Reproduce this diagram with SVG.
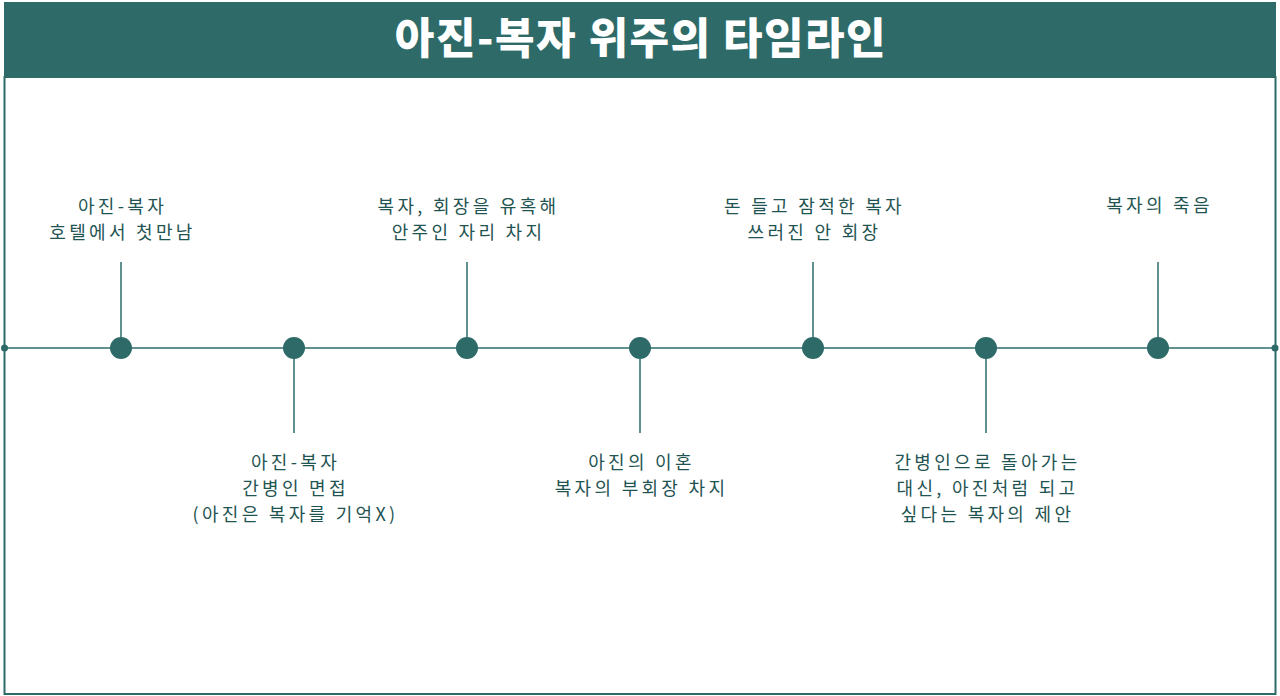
<svg xmlns="http://www.w3.org/2000/svg" width="1280" height="696" viewBox="0 0 1280 696">
<style>
.lbl{font-family:"Noto Sans CJK KR","Noto Sans",sans-serif;font-size:18px;letter-spacing:3.3px;fill:#1f5452;text-anchor:middle}
.title{font-family:"Noto Sans CJK KR","Noto Sans",sans-serif;font-size:43px;font-weight:900;letter-spacing:1.5px;fill:#ffffff;text-anchor:middle}
.stem{stroke:#2e6b68;stroke-width:1.5}
.dot{fill:#2e6b68}
</style>
<rect x="0" y="0" width="1280" height="696" fill="#ffffff"/>
<rect x="4" y="2" width="1272" height="75" fill="#2e6b68"/>
<rect x="4.5" y="77" width="1271" height="617" fill="none" stroke="#2e6b68" stroke-width="2"/>
<text class="title" x="641" y="54">아진-복자 위주의 타임라인</text>
<g id="connectors">
<line class="stem" x1="4" y1="348" x2="1275" y2="348"/>
<line class="stem" x1="121" y1="262" x2="121" y2="348"/>
<line class="stem" x1="294" y1="348" x2="294" y2="433"/>
<line class="stem" x1="467" y1="262" x2="467" y2="348"/>
<line class="stem" x1="640" y1="348" x2="640" y2="433"/>
<line class="stem" x1="813" y1="262" x2="813" y2="348"/>
<line class="stem" x1="986" y1="348" x2="986" y2="433"/>
<line class="stem" x1="1158" y1="262" x2="1158" y2="348"/>
<circle class="dot" cx="4.5" cy="348" r="3.5"/>
<circle class="dot" cx="1275" cy="348" r="3.5"/>
</g>
<g id="n1"><circle class="dot" cx="121" cy="348" r="11"/><text class="lbl" x="122.5" y="213">아진-복자</text><text class="lbl" x="122.5" y="239">호텔에서 첫만남</text></g>
<g id="n2"><circle class="dot" cx="294" cy="348" r="11"/><text class="lbl" x="295.5" y="469">아진-복자</text><text class="lbl" x="295.5" y="495">간병인 면접</text><text class="lbl" x="295.5" y="521">(아진은 복자를 기억X)</text></g>
<g id="n3"><circle class="dot" cx="467" cy="348" r="11"/><text class="lbl" x="468.5" y="213">복자, 회장을 유혹해</text><text class="lbl" x="468.5" y="239">안주인 자리 차지</text></g>
<g id="n4"><circle class="dot" cx="640" cy="348" r="11"/><text class="lbl" x="641.5" y="469">아진의 이혼</text><text class="lbl" x="641.5" y="495">복자의 부회장 차지</text></g>
<g id="n5"><circle class="dot" cx="813" cy="348" r="11"/><text class="lbl" x="814.5" y="213">돈 들고 잠적한 복자</text><text class="lbl" x="814.5" y="239">쓰러진 안 회장</text></g>
<g id="n6"><circle class="dot" cx="986" cy="348" r="11"/><text class="lbl" x="987.5" y="469">간병인으로 돌아가는</text><text class="lbl" x="987.5" y="495">대신, 아진처럼 되고</text><text class="lbl" x="987.5" y="521">싶다는 복자의 제안</text></g>
<g id="n7"><circle class="dot" cx="1158" cy="348" r="11"/><text class="lbl" x="1159.5" y="212">복자의 죽음</text></g>
</svg>
